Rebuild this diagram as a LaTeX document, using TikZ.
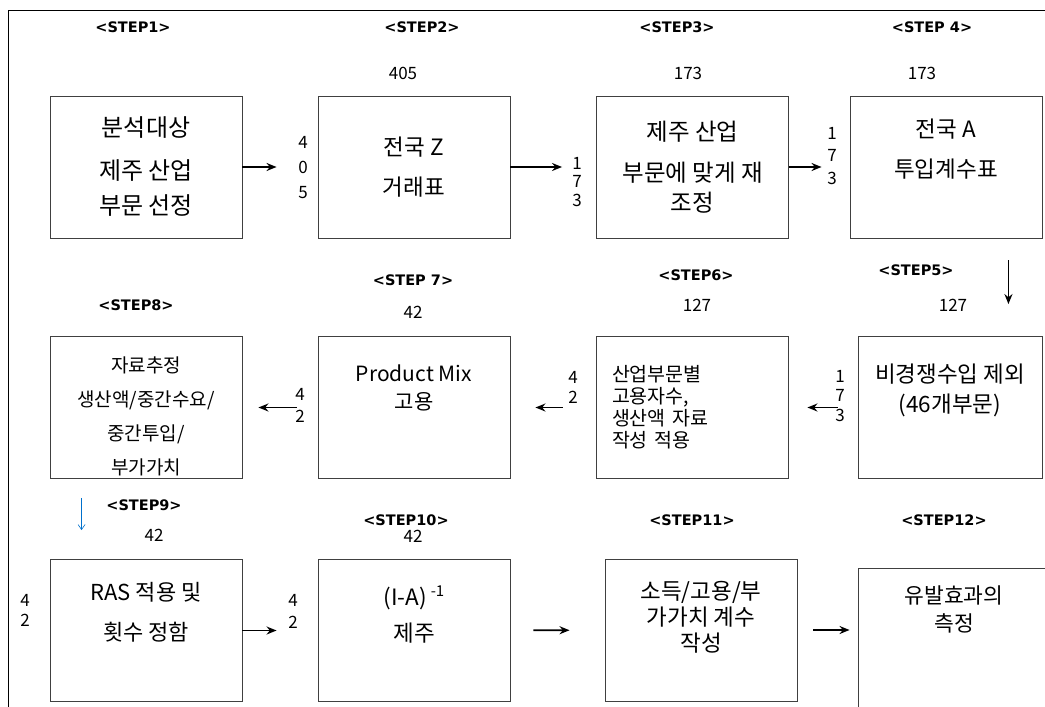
\documentclass[tikz,border=0pt]{standalone}
\usepackage{fontspec}
\setmainfont{Noto Sans CJK KR}
\newfontfamily\stepfont{DejaVu Sans}
\usetikzlibrary{arrows.meta}

\begin{document}
\begin{tikzpicture}[x=1pt, y=-1pt,
  stepbox/.style={draw=black!75, line width=0.9pt, minimum width=192pt,
    minimum height=142pt, inner sep=0pt, align=center,
    font=\fontsize{22.5}{#1}\selectfont},
  stepbox/.default=40,
  lift/.style={text depth=#1},
  steplabel/.style={font=\stepfont\bfseries\fontsize{14.5}{14.5}\selectfont, inner sep=0pt},
  numstack/.style={font=\fontsize{17}{#1}\selectfont, align=center, inner sep=0pt},
  numstack/.default=20,
  flow/.style={-{Stealth[length=10pt,width=8pt]}, line width=1.6pt},
  thinflow/.style={-{Straight Barb[length=5pt,width=7pt]}, draw=blue!45!cyan!80!black, line width=0.6pt}]
  \useasboundingbox (0,0) rectangle (1045,707);
  \clip (0,0) rectangle (1045,707);
  \draw[line width=1pt] (1045,10) -- (8,10) -- (8,707);

  % Define nodes
  \node[stepbox=39, font=\fontsize{24}{39}\selectfont] (s1) at (146,167) {분석대상\\[4pt]제주 산업\\[-4pt]부문 선정};
  \node[stepbox] (s2) at (414,167) {전국 Z\\거래표};
  \node[stepbox=36, font=\fontsize{23.5}{36}\selectfont] (s3) at (692.5,167) {제주 산업\\[5pt]부문에 맞게 재\\[-6pt]조정};
  \node[stepbox, lift=38pt] (s4) at (946,167) {전국 A\\투입계수표};

  \node[stepbox=30, minimum width=184pt, lift=38pt] (s5) at (950,407.5) {비경쟁수입 제외\\(46개부문)};
  \node[stepbox, font=\fontsize{19.5}{22}\selectfont, text width=160pt, align=left] (s6) at (692,407.5) {산업부문별\\고용자수,\\생산액 자료\\작성 적용};
  \node[stepbox, font=\fontsize{21}{28}\selectfont, lift=40pt] (s7) at (414,407.5) {Product Mix\\고용};
  \node[stepbox, font=\fontsize{19}{34}\selectfont] (s8) at (146,407.5) {\rule{0pt}{34pt}자료추정\\생산액/중간수요/\\중간투입/\\부가가치};

  \node[stepbox, font=\fontsize{22}{40}\selectfont, lift=38pt] (s9) at (146,630.5) {RAS 적용 및\\횟수 정함};
  \node[stepbox=36, lift=34pt] (s10) at (414,630.5) {(I-A)\,\raisebox{9pt}{\fontsize{15}{15}\selectfont -1}\\제주};
  \node[stepbox=26, lift=28pt] (s11) at (701,630) {소득/고용/부\\가가치 계수\\작성};
  \node[stepbox, font=\fontsize{21.5}{28}\selectfont, minimum height=160pt, lift=78pt] (s12) at (954,648) {유발효과의\\측정};

  \node[steplabel] (lab1) at (133,27) {<STEP1>};
  \node[steplabel] (lab2) at (422,27) {<STEP2>};
  \node[steplabel] (lab3) at (677,27) {<STEP3>};
  \node[steplabel] (lab4) at (932,27) {<STEP 4>};
  \node[steplabel] (lab5) at (916,270) {<STEP5>};
  \node[steplabel] (lab6) at (696,275) {<STEP6>};
  \node[steplabel] (lab7) at (413,280) {<STEP 7>};
  \node[steplabel] (lab8) at (136,305) {<STEP8>};
  \node[steplabel] (lab9) at (144,505) {<STEP9>};
  \node[steplabel] (lab10) at (406,520) {<STEP10>};
  \node[steplabel] (lab11) at (692,520) {<STEP11>};
  \node[steplabel] (lab12) at (944,520) {<STEP12>};

  \node[numstack] (num2) at (403,73) {405};
  \node[numstack] (num3) at (688,73) {173};
  \node[numstack] (num4) at (922,73) {173};
  \node[numstack] (num5) at (953,305) {127};
  \node[numstack] (num6) at (697,305) {127};
  \node[numstack] (num7) at (413,312) {42};
  \node[numstack] (num9) at (154,535) {42};
  \node[numstack] (num10) at (413,536) {42};

  \node[numstack=25] (n12) at (303,168) {4\\0\\5};
  \node[numstack=18.5] (n23) at (577,182) {1\\7\\3};
  \node[numstack=22.5] (n34) at (832,156) {1\\7\\3};
  \node[numstack=19.5] (n56) at (840,396) {1\\7\\3};
  \node[numstack=20] (n67) at (573,387) {4\\2};
  \node[numstack=22] (n78) at (300,405) {4\\2};
  \node[numstack=20] (n9) at (25,610) {4\\2};
  \node[numstack=22] (n910) at (293,611) {4\\2};

  % Connect the nodes
  \draw[flow, shorten >=41pt] (s1) -- (s2);
  \draw[flow, shorten >=34pt] (s2) -- (s3);
  \draw[flow, shorten >=28pt] (s3) -- (s4);
  \draw[flow] ([xshift=-34pt,yshift=-22pt]s4.south east) -- ([xshift=-34pt,yshift=32pt]s5.north east);
  \draw[flow, shorten <=20pt, shorten >=19pt] (s5.west |- s6) -- (s6);
  \draw[flow, shorten <=33pt, shorten >=25pt] (s6) -- (s7);
  \draw[flow, shorten <=21pt, shorten >=16pt] (s7) -- (s8);
  \draw[thinflow] ([xshift=32pt,yshift=-19pt]s8.south west) -- ([xshift=32pt,yshift=29pt]s9.north west);
  \draw[flow, shorten >=41pt] (s9) -- (s10);
  \draw[flow, shorten <=23pt, shorten >=35pt] (s10) -- (s11);
  \draw[flow, shorten <=16pt, shorten >=8pt] (s11.east) -- (s11.east -| s12.west);
\end{tikzpicture}
\end{document}
